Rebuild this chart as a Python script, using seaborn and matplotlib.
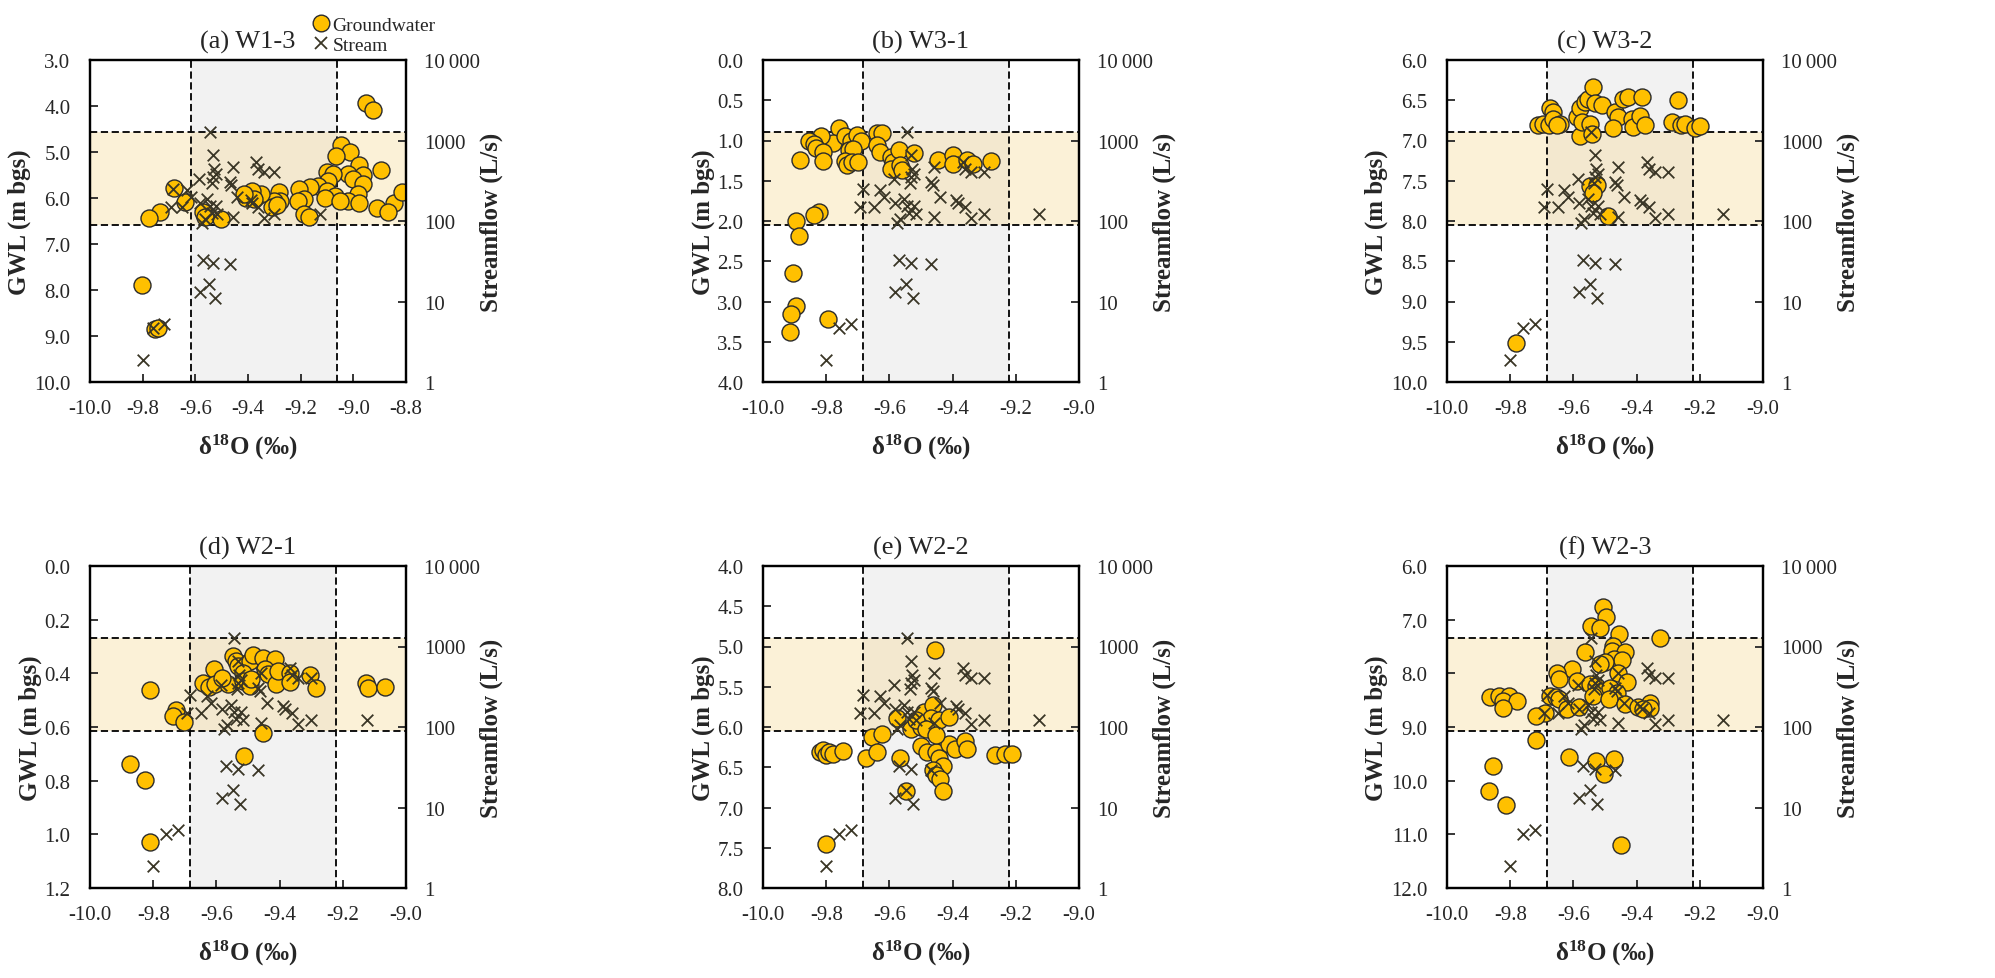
import matplotlib
matplotlib.use('Agg')
import matplotlib.pyplot as plt
import numpy as np
import seaborn as sns
from matplotlib.lines import Line2D
from matplotlib.ticker import FixedLocator, FixedFormatter, NullLocator

# stream samples (shared by every panel)
stream_d18o = [-9.544, -9.533, -9.528, -9.533, -9.522, -9.535, -9.586, -9.684, -9.693, -9.650,
               -9.631, -9.616, -9.458, -9.469, -9.463, -9.441, -9.368, -9.362, -9.341, -9.302,
               -9.389, -9.384, -9.362, -9.341, -9.302, -9.125, -9.581, -9.576, -9.565, -9.554,
               -9.544, -9.538, -9.522, -9.517, -9.458, -9.570, -9.533, -9.469, -9.581, -9.549,
               -9.526, -9.76, -9.72, -9.80]
stream_q = [1260, 660, 447, 355, 389, 295, 331, 251, 148, 148,
            240, 200, 468, 309, 282, 200, 537, 447, 407, 407,
            182, 166, 151, 110, 123, 123, 166, 95, 105, 186,
            155, 126, 155, 123, 112, 33, 30, 29, 13, 16.6,
            11, 4.7, 5.2, 1.9]

# groundwater samples per well
a_d18o = [-8.951, -8.926, -9.045, -9.011, -9.064, -8.978, -8.894, -8.963, -9.022, -9.001,
          -8.963, -9.101, -9.076, -9.095, -9.133, -9.164, -9.101, -8.982, -9.070, -9.108,
          -9.020, -9.051, -8.978, -8.844, -8.817, -8.910, -8.870, -9.208, -9.189, -9.210,
          -9.189, -9.170, -9.284, -9.277, -9.302, -9.309, -9.352, -9.384, -9.409, -9.377,
          -9.503, -9.572, -9.682, -9.638, -9.734, -9.776, -9.801, -9.755, -9.740, -9.565,
          -9.415, -9.290]
a_gwl = [3.94, 4.09, 4.84, 4.99, 5.08, 5.28, 5.39, 5.49, 5.48, 5.59,
         5.70, 5.44, 5.48, 5.62, 5.73, 5.77, 5.84, 5.91, 5.95, 5.99,
         6.06, 6.06, 6.11, 6.11, 5.86, 6.22, 6.31, 5.80, 6.02, 6.06,
         6.35, 6.42, 5.86, 6.06, 6.06, 6.20, 5.91, 5.84, 5.99, 6.02,
         6.46, 6.31, 5.79, 6.09, 6.30, 6.44, 7.89, 8.85, 8.83, 6.42,
         5.92, 6.16]

b_d18o = [-9.759, -9.777, -9.816, -9.854, -9.840, -9.832, -9.809, -9.811, -9.883, -9.739,
          -9.723, -9.702, -9.691, -9.729, -9.715, -9.739, -9.734, -9.718, -9.700, -9.640,
          -9.622, -9.638, -9.631, -9.596, -9.590, -9.596, -9.569, -9.566, -9.559, -9.521,
          -9.447, -9.399, -9.399, -9.356, -9.335, -9.279, -9.824, -9.840, -9.897, -9.885,
          -9.906, -9.895, -9.912, -9.914, -9.794]
b_gwl = [0.84, 1.03, 0.95, 1.00, 1.04, 1.09, 1.14, 1.26, 1.24, 0.95,
         1.00, 0.93, 1.01, 1.12, 1.10, 1.25, 1.31, 1.27, 1.27, 0.91,
         0.91, 1.05, 1.14, 1.20, 1.27, 1.36, 1.12, 1.31, 1.37, 1.16,
         1.24, 1.18, 1.29, 1.24, 1.29, 1.26, 1.89, 1.92, 2.00, 2.19,
         2.64, 3.06, 3.15, 3.38, 3.22]

c_d18o = [-9.711, -9.695, -9.677, -9.674, -9.663, -9.665, -9.642, -9.653, -9.589, -9.579,
          -9.563, -9.553, -9.537, -9.532, -9.511, -9.579, -9.574, -9.547, -9.542, -9.468,
          -9.458, -9.474, -9.442, -9.426, -9.416, -9.411, -9.384, -9.389, -9.374, -9.268,
          -9.289, -9.258, -9.247, -9.216, -9.200, -9.547, -9.526, -9.537, -9.489, -9.781]
c_gwl = [6.81, 6.80, 6.81, 6.60, 6.65, 6.73, 6.79, 6.81, 6.71, 6.60,
         6.52, 6.48, 6.33, 6.54, 6.56, 6.94, 6.77, 6.79, 6.92, 6.65,
         6.71, 6.85, 6.48, 6.46, 6.73, 6.83, 6.46, 6.69, 6.81, 6.50,
         6.77, 6.81, 6.79, 6.85, 6.82, 7.57, 7.55, 7.65, 7.94, 9.51]

d_d18o = [-9.811, -9.728, -9.738, -9.704, -9.609, -9.641, -9.625, -9.604, -9.562, -9.583,
          -9.546, -9.538, -9.532, -9.494, -9.483, -9.452, -9.415, -9.515, -9.515, -9.494,
          -9.489, -9.447, -9.436, -9.412, -9.405, -9.368, -9.368, -9.305, -9.284, -9.126,
          -9.121, -9.068, -9.452, -9.512, -9.872, -9.827, -9.81]
d_gwl = [0.462, 0.536, 0.560, 0.580, 0.385, 0.437, 0.450, 0.441, 0.441, 0.416,
         0.336, 0.354, 0.373, 0.354, 0.333, 0.342, 0.346, 0.397, 0.428, 0.447,
         0.422, 0.385, 0.404, 0.441, 0.393, 0.399, 0.431, 0.407, 0.454, 0.435,
         0.454, 0.451, 0.623, 0.708, 0.739, 0.798, 1.03]

e_d18o = [-9.455, -9.821, -9.810, -9.800, -9.790, -9.779, -9.748, -9.674, -9.656, -9.625,
          -9.640, -9.567, -9.576, -9.549, -9.501, -9.480, -9.453, -9.442, -9.431, -9.463,
          -9.453, -9.439, -9.431, -9.410, -9.393, -9.362, -9.354, -9.267, -9.235, -9.213,
          -9.490, -9.463, -9.469, -9.442, -9.410, -9.533, -9.501, -9.517, -9.485, -9.453,
          -9.80]
e_gwl = [5.04, 6.31, 6.29, 6.35, 6.31, 6.33, 6.30, 6.39, 6.13, 6.09,
         6.31, 6.38, 5.89, 6.79, 6.23, 6.31, 6.31, 6.38, 6.48, 6.54,
         6.60, 6.64, 6.79, 6.21, 6.27, 6.18, 6.27, 6.35, 6.34, 6.33,
         5.81, 5.73, 5.89, 5.91, 5.87, 6.02, 6.00, 5.91, 6.03, 6.10,
         7.45]

f_d18o = [-9.506, -9.496, -9.543, -9.515, -9.456, -9.327, -9.475, -9.477, -9.438, -9.564,
          -9.470, -9.446, -9.501, -9.517, -9.604, -9.651, -9.646, -9.590, -9.459, -9.429,
          -9.548, -9.527, -9.511, -9.485, -9.462, -9.538, -9.488, -9.863, -9.835, -9.804,
          -9.823, -9.778, -9.823, -9.675, -9.654, -9.646, -9.620, -9.583, -9.438, -9.395,
          -9.359, -9.359, -9.380, -9.691, -9.717, -9.719, -9.614, -9.527, -9.473, -9.503,
          -9.854, -9.867, -9.812, -9.45]
f_gwl = [6.76, 6.95, 7.11, 7.15, 7.26, 7.34, 7.49, 7.58, 7.60, 7.60,
         7.74, 7.76, 7.79, 7.83, 7.91, 7.99, 8.11, 8.14, 7.99, 8.17,
         8.19, 8.24, 8.33, 8.27, 8.36, 8.42, 8.48, 8.44, 8.42, 8.42,
         8.52, 8.52, 8.64, 8.42, 8.45, 8.48, 8.67, 8.62, 8.58, 8.62,
         8.56, 8.65, 8.67, 8.74, 8.80, 9.24, 9.55, 9.64, 9.60, 9.88,
         9.73, 10.19, 10.46, 11.2]

titles = ['(a) W1-3', '(b) W3-1', '(c) W3-2', '(d) W2-1', '(e) W2-2', '(f) W2-3']
gw_d18o = [a_d18o, b_d18o, c_d18o, d_d18o, e_d18o, f_d18o]
gw_gwl = [a_gwl, b_gwl, c_gwl, d_gwl, e_gwl, f_gwl]
# left axis range (top, bottom, step)
gwl_axes = [(3.0, 10.0, 1.0), (0.0, 4.0, 0.5), (6.0, 10.0, 0.5),
            (0.0, 1.2, 0.2), (4.0, 8.0, 0.5), (6.0, 12.0, 1.0)]
x_max = [-8.8, -9.0, -9.0, -9.0, -9.0, -9.0]
# stream d18O range (vertical band) and streamflow range (horizontal band)
d18o_band = [(-9.615, -9.062), (-9.684, -9.22), (-9.684, -9.22),
             (-9.684, -9.22), (-9.684, -9.22), (-9.684, -9.22)]
q_band = (90, 1290)

q_ticks = [1, 10, 100, 1000, 10000]
q_labels = ['1', '10', '100', '1000', '10\u2009000']

sns.set_style('ticks')
plt.rcParams['font.family'] = ['Liberation Serif', 'DejaVu Serif']
plt.rcParams['mathtext.fontset'] = 'custom'
plt.rcParams['mathtext.rm'] = 'Liberation Serif'
plt.rcParams['mathtext.bf'] = 'Liberation Serif:bold'
plt.rcParams['mathtext.it'] = 'Liberation Serif:italic'

gw_color = '#FFC000'
gw_edge = '#2b2b2b'
st_color = '#3a3626'
W, H = 1995, 979


def q_to_gwl(q, top, bottom):
    # right axis spans 1..10000 over the same height as the left axis
    frac = np.log10(q) / 4.0
    return bottom - frac * (bottom - top)


def panel(fig, rect, i, legend=False):
    ax = fig.add_axes(rect)
    top, bottom, step = gwl_axes[i]
    vlo, vhi = d18o_band[i]
    ax.set_xlim(-10.0, x_max[i])
    ax.set_ylim(bottom, top)

    ax.axvspan(vlo, vhi, color='#F2F2F2', lw=0, zorder=0)
    glo = q_to_gwl(q_band[0], top, bottom)
    ghi = q_to_gwl(q_band[1], top, bottom)
    ax.axhspan(ghi, glo, color='#F5D78E', alpha=0.35, lw=0, zorder=0.5)
    for v in (vlo, vhi):
        ax.axvline(v, color='black', ls=(0, (4, 2)), lw=1.3, zorder=1)
    for g in (ghi, glo):
        ax.axhline(g, color='black', ls=(0, (4, 2)), lw=1.3, zorder=1)

    sns.scatterplot(x=gw_d18o[i], y=gw_gwl[i], ax=ax, s=150, color=gw_color,
                    edgecolor=gw_edge, linewidth=1.0, zorder=3)

    xt = np.round(np.arange(-10.0, x_max[i] + 0.01, 0.2), 1)
    ax.xaxis.set_major_locator(FixedLocator(xt))
    ax.xaxis.set_major_formatter(FixedFormatter([f'{v:.1f}' for v in xt]))
    yt = np.round(np.arange(top, bottom + step / 2, step), 1)
    ax.yaxis.set_major_locator(FixedLocator(yt))
    ax.yaxis.set_major_formatter(FixedFormatter([f'{v:.1f}' for v in yt]))
    ax.tick_params(direction='in', length=6, width=1.3, labelsize=15,
                   top=False, right=False)
    ax.tick_params(axis='x', pad=12)
    ax.tick_params(axis='y', pad=14)
    ax.set_xlabel('δ$^{\\mathbf{18}}$O (‰)', fontsize=18, fontweight='bold', labelpad=10)
    ax.set_ylabel('GWL (m bgs)', fontsize=18, fontweight='bold', labelpad=2)
    ax.set_title(titles[i], fontsize=19, pad=9)

    ax2 = ax.twinx()
    ax2.set_yscale('log')
    ax2.set_ylim(1, 10000)
    sns.scatterplot(x=stream_d18o, y=stream_q, ax=ax2, marker='x', s=70,
                    color=st_color, linewidth=1.3, zorder=4)
    ax2.yaxis.set_major_locator(FixedLocator(q_ticks))
    ax2.yaxis.set_major_formatter(FixedFormatter(q_labels))
    ax2.yaxis.set_minor_locator(NullLocator())
    ax2.tick_params(direction='in', length=6, width=1.3, labelsize=15, pad=13)
    ax2.set_ylabel('Streamflow (L/s)', fontsize=18, fontweight='bold', labelpad=0)
    ax2.set_xlim(-10.0, x_max[i])

    for a in (ax, ax2):
        for s in a.spines.values():
            s.set_visible(True)
            s.set_color('black')
            s.set_linewidth(1.6)

    if legend:
        handles = [Line2D([], [], marker='o', ls='', markerfacecolor=gw_color,
                          markeredgecolor=gw_edge, markersize=12),
                   Line2D([], [], marker='x', ls='', color=st_color,
                          markersize=9, mew=1.3)]
        ax2.legend(handles, ['Groundwater', 'Stream'], loc='lower left',
                   bbox_to_anchor=(0.7, 1.02), frameon=False, fontsize=14,
                   handletextpad=0.1, labelspacing=0.1, borderaxespad=0,
                   borderpad=0, handlelength=1.0)


fig = plt.figure(figsize=(W / 100, H / 100), dpi=100)
lefts = [90, 763, 1447]
tops = [61, 567]
w_px, h_px = 316, 322
for r in range(2):
    for c in range(3):
        i = r * 3 + c
        rect = [lefts[c] / W, 1 - (tops[r] + h_px) / H, w_px / W, h_px / H]
        panel(fig, rect, i, legend=(i == 0))

fig.savefig('out.png', dpi=100)
